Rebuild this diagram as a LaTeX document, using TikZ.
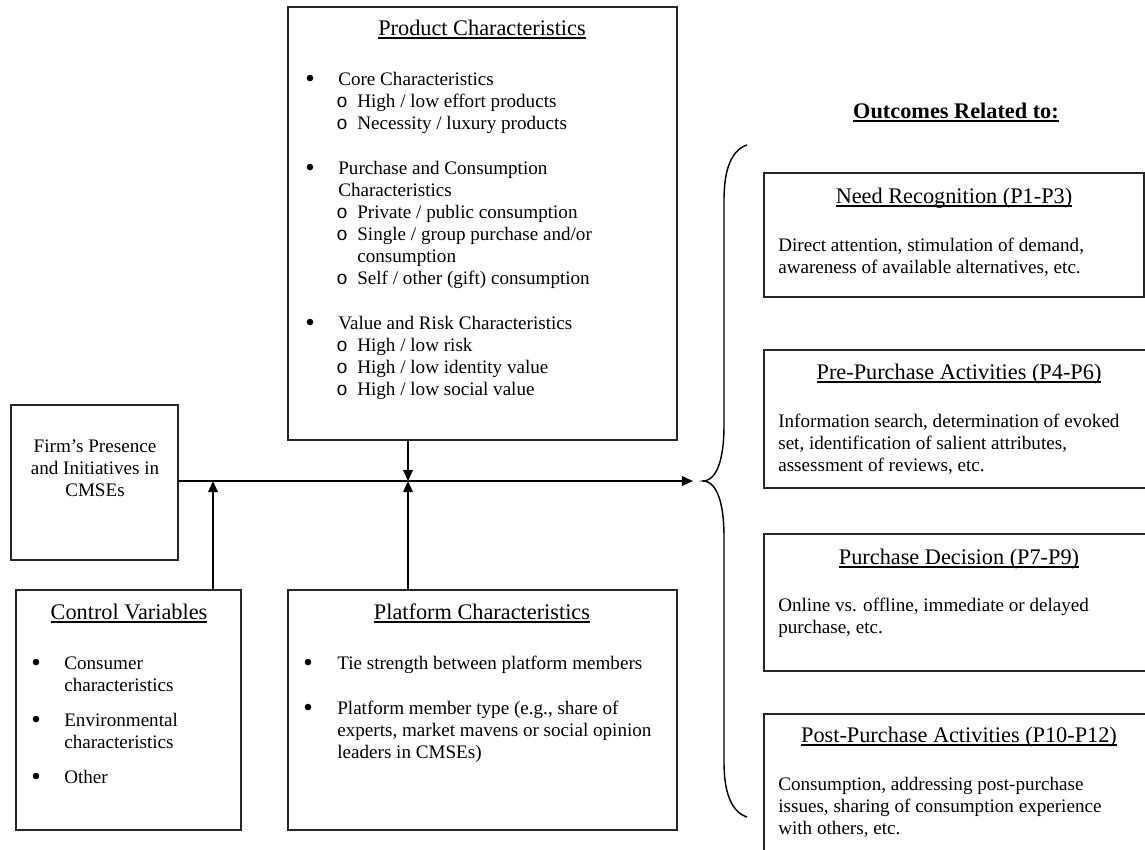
\documentclass[tikz,border=0pt]{standalone}
\usepackage{fontspec}
\setmainfont{Liberation Serif}
\setmonofont{Liberation Mono}
\newcommand\myul[1]{\setbox0\hbox{#1}\rlap{\rule[-2.2pt]{\wd0}{0.9pt}}\box0}
\usetikzlibrary{arrows.meta,fit}
\begin{document}
\begin{tikzpicture}[x=0.628pt,y=-0.628pt,
  box/.style={draw=black!85,line width=0.9pt,inner sep=0pt},
  txt/.style={anchor=base west,inner sep=0pt,font=\fontsize{12}{13.8}\selectfont},
  ctxt/.style={anchor=base,inner sep=0pt,font=\fontsize{12}{13.8}\selectfont},
  ttl/.style={anchor=base,inner sep=0pt,font=\fontsize{14}{16}\selectfont},
  bul/.style={anchor=base west,inner sep=0pt,font=\fontsize{17}{17}\selectfont},
  sub/.style={anchor=base west,inner sep=0pt,font=\fontsize{12}{13.8}\ttfamily},
  arr/.style={line width=1.2pt,-{Triangle[length=7pt,width=6pt]}}]
\clip (0,0) rectangle (1145,849);
\fill[white] (0,0) rectangle (1145,849);

% ---------- Product characteristics ----------
\node[box,fit={(288,7)(677,440)}] (prod) {};
\node[ttl] (prodt) at (482,35) {\myul{Product Characteristics}};
\foreach \y [count=\i] in {87,176,331} \node[bul] (pb\i) at (305,\y) {•};
\foreach \y/\t [count=\i] in {85/{Core Characteristics},174/{Purchase and Consumption},196/{Characteristics},329/{Value and Risk Characteristics}}
  \node[txt] (pm\i) at (338,\y) {\t};
\foreach \y [count=\i] in {107,129,218,240,284,351,373,395} \node[sub] (po\i) at (336,\y) {o};
\foreach \y/\t [count=\i] in {107/{High / low effort products},129/{Necessity / luxury products},218/{Private / public consumption},240/{Single / group purchase and/or},262/{consumption},284/{Self / other (gift) consumption},351/{High / low risk},373/{High / low identity value},395/{High / low social value}}
  \node[txt] (ps\i) at (357,\y) {\t};

% ---------- Firm ----------
\node[box,fit={(11,405)(178,560)}] (firm) {};
\node[ctxt] (f1) at (95,452) {Firm’s Presence};
\node[ctxt] (f2) at (95,474) {and Initiatives in};
\node[ctxt] (f3) at (95,496) {CMSEs};

% ---------- Control variables ----------
\node[box,fit={(16,590)(241,830)}] (ctrl) {};
\node[ttl] (ctrlt) at (129,619) {\myul{Control Variables}};
\foreach \y [count=\i] in {671,728,785} \node[bul] (cb\i) at (31,\y) {•};
\foreach \y/\t [count=\i] in {669/{Consumer},691/{characteristics},726/{Environmental},748/{characteristics},783/{Other}}
  \node[txt] (cm\i) at (64,\y) {\t};

% ---------- Platform characteristics ----------
\node[box,fit={(288,590)(677,830)}] (plat) {};
\node[ttl] (platt) at (482,619) {\myul{Platform Characteristics}};
\foreach \y [count=\i] in {671,716} \node[bul] (lb\i) at (303,\y) {•};
\foreach \y/\t [count=\i] in {669/{Tie strength between platform members},714/{Platform member type (e.g., share of},736/{experts, market mavens or social opinion},758/{leaders in CMSEs)}}
  \node[txt] (lm\i) at (337,\y) {\t};

% ---------- Outcomes ----------
\node[ttl,font=\fontsize{14}{16}\selectfont\bfseries] (outt) at (956,118) {\myul{Outcomes Related to:}};

\node[box,fit={(764,173)(1144,297)}] (need) {};
\node[ttl] (needt) at (954,203) {\myul{Need Recognition (P1-P3)}};
\node[txt] (n1) at (778,251) {Direct attention, stimulation of demand,};
\node[txt] (n2) at (778,273) {awareness of available alternatives, etc.};

\node[box,fit={(764,350)(1154,488)}] (pre) {};
\node[ttl] (pret) at (959,379) {\myul{Pre-Purchase Activities (P4-P6)}};
\node[txt] (r1) at (778,427) {Information search, determination of evoked};
\node[txt] (r2) at (778,449) {set, identification of salient attributes,};
\node[txt] (r3) at (778,471) {assessment of reviews, etc.};

\node[box,fit={(764,534)(1154,671)}] (dec) {};
\node[ttl] (dect) at (959,564) {\myul{Purchase Decision (P7-P9)}};
\node[txt] (d1) at (778,611) {Online vs. offline, immediate or delayed};
\node[txt] (d2) at (778,633) {purchase, etc.};

\node[box,fit={(764,714)(1154,880)}] (post) {};
\node[ttl] (postt) at (959,742) {\myul{Post-Purchase Activities (P10-P12)}};
\node[txt] (s1) at (778,790) {Consumption, addressing post-purchase};
\node[txt] (s2) at (778,812) {issues, sharing of consumption experience};
\node[txt] (s3) at (778,834) {with others, etc.};

% ---------- brace ----------
\draw[line width=0.9pt] (747,145) .. controls (732,150) and (724,168) .. (724,200)
  -- (724,425) .. controls (724,466) and (714,481) .. (703,481)
  .. controls (714,481) and (724,496) .. (724,537)
  -- (724,762) .. controls (724,794) and (732,812) .. (747,817);

% ---------- connectors ----------
\coordinate (tip) at (693,481);
\coordinate (j1) at (213,481);
\coordinate (j2) at (408,481);
\draw[arr] (firm.east |- tip) -- (tip);
\draw[arr] (j1 |- ctrl.north) -- (j1);
\draw[arr] (j2 |- prod.south) -- (j2);
\draw[arr] (j2 |- plat.north) -- (j2);
\end{tikzpicture}
\end{document}
